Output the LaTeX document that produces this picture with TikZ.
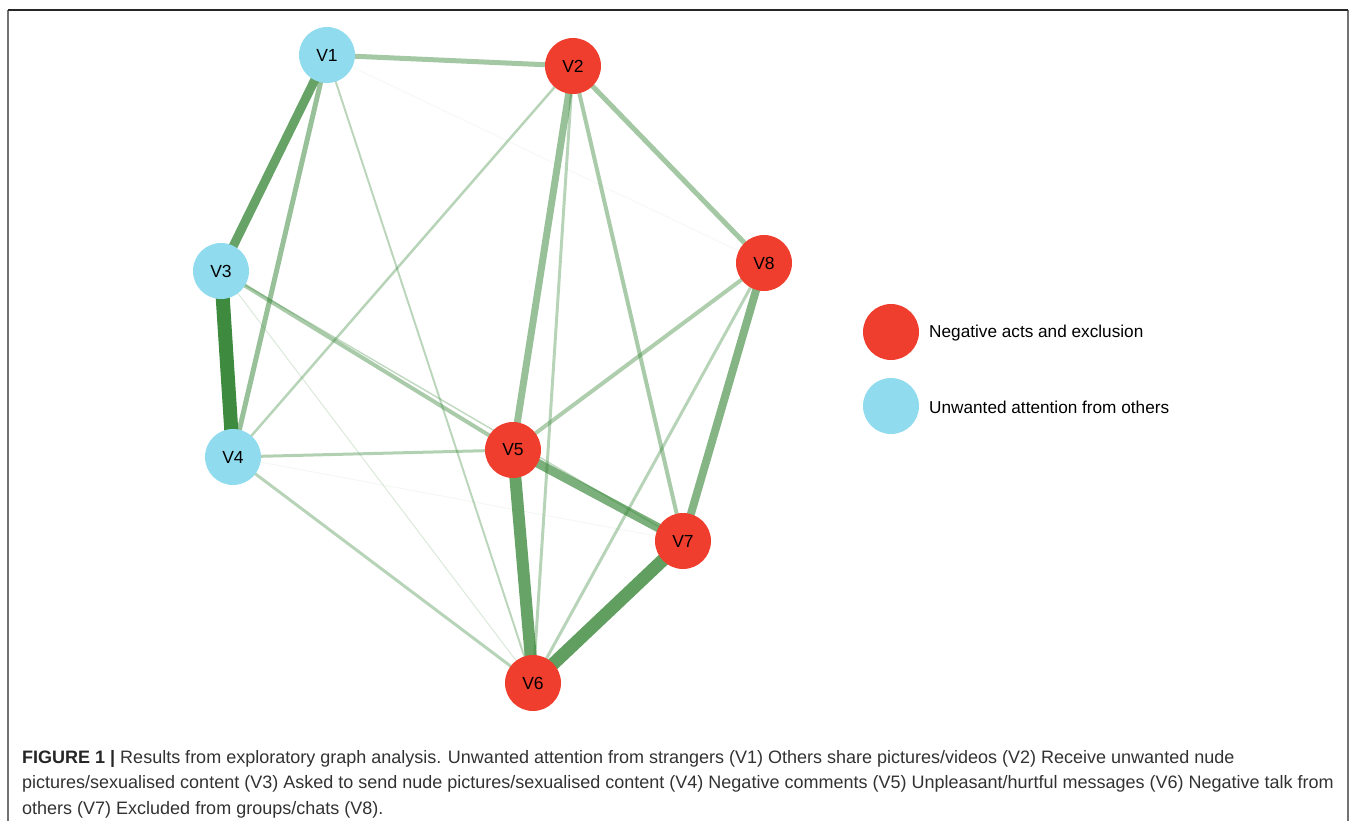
\documentclass[tikz,border=0pt]{standalone}
\usepackage{fontspec}
\setmainfont{Liberation Sans}
\usetikzlibrary{backgrounds}
\definecolor{nodered}{RGB}{240,62,46}
\definecolor{nodeblue}{RGB}{144,220,238}
\definecolor{edgegreen}{RGB}{52,132,52}
\definecolor{captext}{RGB}{50,50,50}
\tikzset{
  vnode/.style={circle, minimum size=56pt, inner sep=0pt, font=\fontsize{17.5}{20}\selectfont, text=black},
  rednode/.style={vnode, fill=nodered},
  bluenode/.style={vnode, fill=nodeblue},
  legdot/.style={circle, minimum size=56pt, inner sep=0pt},
  legtext/.style={anchor=west, inner sep=0pt, font=\fontsize{17.2}{20}\selectfont, text=black},
  edge/.style n args={2}{draw=edgegreen, line width=#1pt, draw opacity=#2, line cap=butt},
}
\begin{document}
\begin{tikzpicture}[x=1pt, y=-1pt]
\useasboundingbox (0,0) rectangle (1358,821);
% frame
\draw[line width=1.5pt, draw=black!55] (8,10) -- (8,821);
\draw[line width=1.5pt, draw=black!55] (1348,10) -- (1348,821);
\draw[line width=1.5pt, draw=black!85] (8,10) -- (1348,10);

% nodes
\node[bluenode] (V1) at (327,55) {V1};
\node[rednode]  (V2) at (573,66) {V2};
\node[bluenode] (V3) at (221,271) {V3};
\node[bluenode] (V4) at (233,457) {V4};
\node[rednode]  (V5) at (513,450) {V5};
\node[rednode]  (V6) at (533,683) {V6};
\node[rednode]  (V7) at (683,541) {V7};
\node[rednode]  (V8) at (764,263) {V8};

\begin{pgfonlayer}{background}
\draw[edge={1.5}{0.04}] (V1.center) -- (V8.center);
\draw[edge={1}{0.06}] (V4.center) -- (V7.center);
\draw[edge={1}{0.18}] (V3.center) -- (V6.center);
\draw[edge={1.5}{0.30}] (V3.center) -- (V7.center);
\draw[edge={2}{0.33}] (V1.center) -- (V6.center);
\draw[edge={2.5}{0.35}] (V2.center) -- (V4.center);
\draw[edge={3}{0.35}] (V2.center) -- (V6.center);
\draw[edge={3}{0.38}] (V4.center) -- (V5.center);
\draw[edge={3}{0.35}] (V4.center) -- (V6.center);
\draw[edge={3}{0.35}] (V6.center) -- (V8.center);
\draw[edge={4}{0.42}] (V2.center) -- (V7.center);
\draw[edge={4}{0.42}] (V3.center) -- (V5.center);
\draw[edge={4}{0.40}] (V5.center) -- (V8.center);
\draw[edge={5}{0.45}] (V1.center) -- (V2.center);
\draw[edge={5}{0.50}] (V1.center) -- (V4.center);
\draw[edge={5}{0.45}] (V2.center) -- (V8.center);
\draw[edge={7}{0.50}] (V2.center) -- (V5.center);
\draw[edge={8}{0.60}] (V7.center) -- (V8.center);
\draw[edge={9}{0.65}] (V5.center) -- (V7.center);
\draw[edge={9}{0.75}] (V1.center) -- (V3.center);
\draw[edge={12}{0.75}] (V5.center) -- (V6.center);
\draw[edge={13}{0.78}] (V6.center) -- (V7.center);
\draw[edge={14}{0.95}] (V3.center) -- (V4.center);
\end{pgfonlayer}

% legend
\node[legdot, fill=nodered]  (L1) at (891,332) {};
\node[legtext] (L1t) at (929,333) {Negative acts and exclusion};
\node[legdot, fill=nodeblue] (L2) at (891,406) {};
\node[legtext] (L2t) at (929,407) {Unwanted attention from others};

% caption
\node[anchor=base west, inner sep=0pt, align=left, text=captext,
      font=\fontsize{18}{25.5}\selectfont] (cap) at (22,814)
{\textbf{\color{black!85}FIGURE 1 |} Results from exploratory graph analysis. Unwanted attention from strangers (V1) Others share pictures/videos (V2) Receive unwanted nude\\
pictures/sexualised content (V3) Asked to send nude pictures/sexualised content (V4) Negative comments (V5) Unpleasant/hurtful messages (V6) Negative talk from\\
others (V7) Excluded from groups/chats (V8).};
\end{tikzpicture}
\end{document}
